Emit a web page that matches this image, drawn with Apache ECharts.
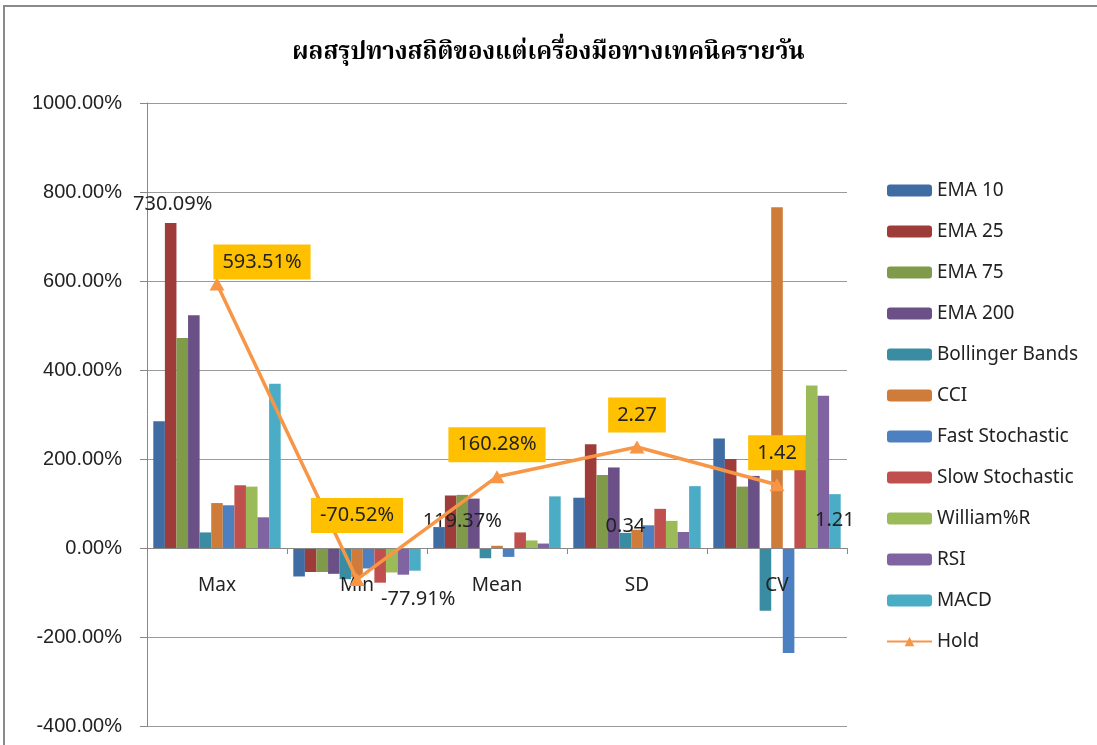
<!DOCTYPE html>
<html>
<head>
<meta charset="utf-8">
<script src="https://cdn.jsdelivr.net/npm/echarts@6/dist/echarts.min.js"></script>
<style>
  html, body { margin: 0; padding: 0; background: #fff; }
  #chart { width: 1097px; height: 745px; }
</style>
</head>
<body>
<div id="chart"></div>
<script>
const categories = ['Max', 'Min', 'Mean', 'SD', 'CV'];
const ema10 = [2.85, -0.64, 0.47, 1.13, 2.46];
const ema25 = [7.3009, -0.54, 1.18, 2.33, 2.00];
const ema75 = [4.72, -0.54, 1.1937, 1.64, 1.38];
const ema200 = [5.23, -0.58, 1.11, 1.81, 1.62];
const bollinger = [0.35, -0.70, -0.23, 0.34, -1.41];
const cci = [1.01, -0.65, 0.05, 0.41, 7.66];
const fastSto = [0.96, -0.46, -0.20, 0.51, -2.36];
const slowSto = [1.41, -0.7791, 0.35, 0.88, 2.52];
const williamR = [1.38, -0.55, 0.17, 0.61, 3.65];
const rsi = [0.69, -0.60, 0.10, 0.36, 3.42];
const macd = [3.69, -0.51, 1.16, 1.39, 1.21];
const hold = [5.9351, -0.7052, 1.6028, 2.27, 1.42];

const fmt = (v, i) => i < 3 ? (v * 100).toFixed(2) + '%' : v.toFixed(2);
const FONT = 'Noto Sans';

// bars that carry a value label in the original: name -> [index, position, offset]
const barLabels = {
  'EMA 25': [0, 'top', [2, -4]],
  'Slow Stochastic': [1, 'bottom', [38, 2]],
  'EMA 75': [2, 'top', [0, 41]],
  'Bollinger Bands': [3, 'top', [0, 8]],
  'MACD': [4, 'top', [0, 41]]
};

const barSeries = [
  ['EMA 10', ema10, '#3F6CA3'],
  ['EMA 25', ema25, '#9E3C3A'],
  ['EMA 75', ema75, '#7F9A49'],
  ['EMA 200', ema200, '#6A5087'],
  ['Bollinger Bands', bollinger, '#3A8CA2'],
  ['CCI', cci, '#CF7B39'],
  ['Fast Stochastic', fastSto, '#4C80C0'],
  ['Slow Stochastic', slowSto, '#C0504D'],
  ['William%R', williamR, '#9BBB59'],
  ['RSI', rsi, '#8064A2'],
  ['MACD', macd, '#4BACC6']
].map(([name, vals, color]) => ({
  name: name,
  type: 'bar',
  barGap: 0,
  barCategoryGap: '9%',
  itemStyle: { color: color },
  data: vals.map((v, i) => {
    const lb = barLabels[name];
    if (lb && lb[0] === i) {
      return {
        value: v,
        label: {
          show: true, position: lb[1], offset: lb[2],
          formatter: () => fmt(v, i),
          fontFamily: FONT, fontSize: 20, color: '#222'
        }
      };
    }
    return v;
  })
}));

const holdOffsets = [[45, 7], [0, -35], [0, -3], [0, -3], [0, -3]];

const chart = echarts.init(document.getElementById('chart'));
chart.setOption({
  animation: false,
  backgroundColor: '#fff',
  title: {
    text: 'ผลสรุปทางสถิติของแต่เครื่องมือทางเทคนิครายวัน',
    left: 'center',
    top: 38,
    textStyle: { fontFamily: 'Noto Serif Thai, Noto Sans Thai, serif', fontSize: 24, fontWeight: 'bold', color: '#000' }
  },
  graphic: [{
    type: 'rect',
    shape: { x: 4, y: 6, width: 1200, height: 800 },
    style: { fill: 'none', stroke: '#8a8a8a', lineWidth: 2 },
    silent: true
  }],
  legend: {
    orient: 'vertical',
    left: 881,
    top: 176,
    itemWidth: 45,
    itemHeight: 12,
    itemGap: 22,
    textStyle: { fontFamily: FONT, fontSize: 19, color: '#222' },
    data: barSeries.map(s => s.name).concat(['Hold'])
  },
  grid: { left: 147, right: 250, top: 103, bottom: 19, containLabel: false, outerBoundsMode: 'none' },
  xAxis: {
    type: 'category',
    data: categories,
    offset: -178,
    z: 4,
    axisLine: { onZero: false, lineStyle: { color: '#888', width: 1 } },
    axisTick: { show: true, length: 6, inside: false, lineStyle: { color: '#888' } },
    axisLabel: { fontFamily: FONT, fontSize: 19, color: '#222', margin: 28 }
  },
  yAxis: {
    type: 'value',
    min: -4,
    max: 10,
    interval: 2,
    axisLine: { show: true, lineStyle: { color: '#888' } },
    axisTick: { show: true, length: 7, lineStyle: { color: '#888' } },
    splitLine: { lineStyle: { color: '#9a9a9a' } },
    axisLabel: {
      fontFamily: 'Liberation Sans', fontSize: 20, color: '#222', margin: 25,
      formatter: v => (v * 100).toFixed(2) + '%'
    }
  },
  series: barSeries.concat([{
    name: 'Hold',
    type: 'line',
    z: 5,
    symbol: 'triangle',
    symbolSize: [15, 13],
    lineStyle: { color: '#F79646', width: 3.5 },
    itemStyle: { color: '#F79646' },
    data: hold.map((v, i) => ({
      value: v,
      label: {
        show: true,
        position: 'top',
        offset: holdOffsets[i],
        formatter: () => fmt(v, i),
        backgroundColor: '#FFC000',
        padding: [7, 9, 7, 9],
        lineHeight: 21,
        fontFamily: FONT, fontSize: 20, color: '#222'
      }
    }))
  }])
});
</script>
</body>
</html>
